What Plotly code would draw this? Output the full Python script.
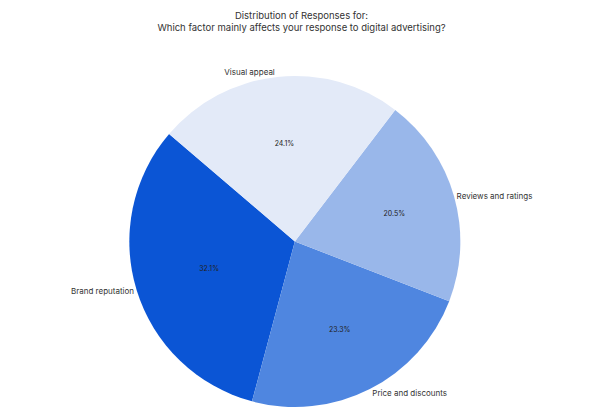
import plotly.graph_objects as go

categories = ["Brand reputation", "Price and discounts", "Reviews and ratings", "Visual appeal"]
shares = [32.1, 23.3, 20.5, 24.1]
colors = ["#0b55d5", "#4f86e0", "#99b7ea", "#e3eaf8"]

title_text = "Distribution of Responses for:<br>Which factor mainly affects your response to digital advertising?"

dom = dict(x=[0.04, 1.0], y=[0.0, 1.0])
common = dict(labels=categories, values=shares, sort=False, direction="counterclockwise",
              rotation=-165, domain=dom, showlegend=False)

fig = go.Figure()
fig.add_trace(go.Pie(
    **common,
    marker=dict(colors=colors, line=dict(width=0)),
    texttemplate="%{percent:.1%}", textposition="inside", insidetextorientation="horizontal",
    textfont=dict(size=7, color="#222222", family="Inter"),
    hoverinfo="label+percent",
))
fig.add_trace(go.Pie(
    **common,
    marker=dict(colors=["rgba(0,0,0,0)"] * 4, line=dict(width=0)),
    textinfo="label", textposition="outside",
    textfont=dict(size=8, color="#333333", family="Inter"),
    hoverinfo="skip",
))
fig.update_layout(
    width=603, height=412, showlegend=False,
    margin=dict(l=0, r=0, t=76, b=0),
    paper_bgcolor="white",
    title=dict(text=title_text, x=0.5, xanchor="center", y=0.955, yanchor="top",
               font=dict(size=9.5, color="#333333", family="Inter")),
)
fig.write_html("out.html")
